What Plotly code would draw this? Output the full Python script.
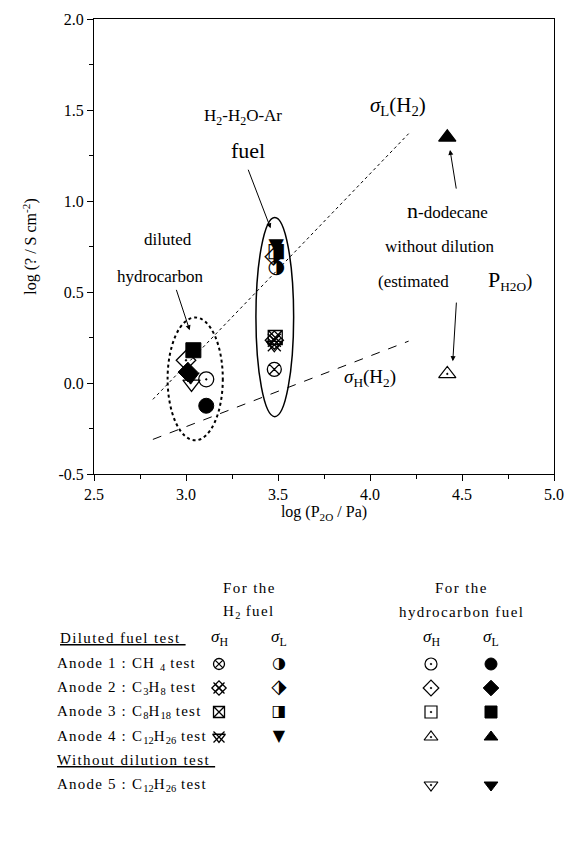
import plotly.graph_objects as go

W, H = 573, 847
SERIF = "Liberation Serif"

# ---------------- data ----------------
# hydrocarbon fuel, sigma_L (filled)
hc_L_x = [3.11, 3.01, 3.04, 3.025]
hc_L_y = [-0.125, 0.06, 0.18, 0.035]
hc_L_sym = ["circle", "diamond", "square", "triangle-down"]
# hydrocarbon fuel, sigma_H (open with dot)
hc_H_x = [3.11, 3.00, 3.03]
hc_H_y = [0.02, 0.125, -0.005]
hc_H_sym = ["circle-open-dot", "diamond-open-dot", "triangle-down-open"]
# n-dodecane without dilution
nd_x = [4.42, 4.42]
nd_y = [1.35, 0.05]
nd_sym = ["triangle-up", "triangle-up-open-dot"]
# H2 fuel sigma_L
h2_L_x = [3.49, 3.49, 3.475, 3.49]
h2_L_y = [0.75, 0.72, 0.69, 0.63]
h2_L_glyph = ["▼", "◨", "⬗", "◑"]
# H2 fuel sigma_H
h2_H_x = [3.485, 3.48, 3.48, 3.48]
h2_H_y = [0.25, 0.235, 0.21, 0.075]
h2_H_sym = ["square-x-open", "diamond-x-open", "triangle-down-open", "circle-x-open"]
h2_H_over_x = [3.48, 3.48]
h2_H_over_y = [0.235, 0.21]

# reference lines
sigL_line_x = [2.82, 4.21]
sigL_line_y = [-0.09, 1.37]
sigH_line_x = [2.82, 4.21]
sigH_line_y = [-0.31, 0.23]

# ellipses: [x0, x1, y0, y1]
ell_hc = [2.90, 3.20, -0.315, 0.36]
ell_h2 = [3.38, 3.585, -0.185, 0.91]

# axis ticks
x_ticks = [2.5, 3.0, 3.5, 4.0, 4.5, 5.0]
x_ticklabels = ["2.5", "3.0", "3.5", "4.0", "4.5", "5.0"]
y_ticks = [-0.5, 0.0, 0.5, 1.0, 1.5, 2.0]
y_ticklabels = ["-0.5", "0.0", "0.5", "1.0", "1.5", "2.0"]

# legend table: each row is a list of (text, is_subscript) pieces
leg_rows = [
    [("Anode 1 : CH ", 0), ("4", 1), (" test", 0)],
    [("Anode 2 : C", 0), ("3", 1), ("H", 0), ("8", 1), (" test", 0)],
    [("Anode 3 : C", 0), ("8", 1), ("H", 0), ("18", 1), (" test", 0)],
    [("Anode 4 : C", 0), ("12", 1), ("H", 0), ("26", 1), (" test", 0)],
    [("Anode 5 : C", 0), ("12", 1), ("H", 0), ("26", 1), (" test", 0)],
]
leg_h2_H_sym = ["circle-x-open", "diamond-x-open", "square-x-open", "triangle-down-open"]
leg_h2_L_glyph = ["◑", "⬗", "◨", "▼"]
leg_hc_H_sym = ["circle-open-dot", "diamond-open-dot", "square-open-dot", "triangle-up-open-dot", "triangle-down-open-dot"]
leg_hc_L_sym = ["circle", "diamond", "square", "triangle-up", "triangle-down"]

# ---------------- layout geometry ----------------
PL, PR, PT, PB = 86, 546, 11, 466
col_x = [211, 271, 423, 483]
row_y = [656, 680, 704, 729, 777]
hdr_y = [580, 604, 630]
under_y = 752
TX = 47

fig = go.Figure()

fig.add_trace(go.Scatter(x=sigL_line_x, y=sigL_line_y, mode="lines",
                         line=dict(color="black", width=1, dash="dot"), showlegend=False))
fig.add_trace(go.Scatter(x=sigH_line_x, y=sigH_line_y, mode="lines",
                         line=dict(color="black", width=1, dash="dash"), showlegend=False))

for e, dash, wd in [(ell_hc, "dot", 2), (ell_h2, "solid", 1.5)]:
    fig.add_shape(type="circle", xref="x", yref="y", x0=e[0], x1=e[1], y0=e[2], y1=e[3],
                  line=dict(color="black", width=wd, dash=dash))

fig.add_trace(go.Scatter(x=h2_H_x, y=h2_H_y, mode="markers", showlegend=False,
                         marker=dict(symbol=h2_H_sym, size=14, color="black",
                                     line=dict(color="black", width=1.3))))
fig.add_trace(go.Scatter(x=h2_H_over_x, y=h2_H_over_y, mode="markers", showlegend=False,
                         marker=dict(symbol="x-thin-open", size=13, color="black",
                                     line=dict(color="black", width=1.3))))
fig.add_trace(go.Scatter(x=h2_L_x, y=h2_L_y, mode="text", text=h2_L_glyph, showlegend=False,
                         textfont=dict(family="DejaVu Sans", size=[20, 20, 24, 20], color="black")))
fig.add_trace(go.Scatter(x=hc_H_x, y=hc_H_y, mode="markers", showlegend=False,
                         marker=dict(symbol=hc_H_sym, size=15, color="black",
                                     line=dict(color="black", width=1.3))))
fig.add_trace(go.Scatter(x=hc_L_x, y=hc_L_y, mode="markers", showlegend=False,
                         marker=dict(symbol=hc_L_sym, size=15, color="black",
                                     line=dict(color="black", width=1))))
fig.add_trace(go.Scatter(x=nd_x, y=nd_y, mode="markers", showlegend=False,
                         marker=dict(symbol=nd_sym, size=15, color="black",
                                     line=dict(color="black", width=1.2))))

# ---------------- legend table (overlay pixel axes) ----------------
n4 = len(leg_h2_H_sym)
fig.add_trace(go.Scatter(x=[col_x[0]] * n4, y=row_y[:n4], xaxis="x2", yaxis="y2", mode="markers",
                         showlegend=False, cliponaxis=False,
                         marker=dict(symbol=leg_h2_H_sym, size=11, color="black",
                                     line=dict(color="black", width=1.3))))
fig.add_trace(go.Scatter(x=[col_x[0]] * 2, y=[row_y[1], row_y[3]], xaxis="x2", yaxis="y2", mode="markers",
                         showlegend=False, cliponaxis=False,
                         marker=dict(symbol="x-thin-open", size=11, color="black",
                                     line=dict(color="black", width=1.3))))
fig.add_trace(go.Scatter(x=[col_x[1]] * n4, y=row_y[:n4], xaxis="x2", yaxis="y2", mode="text",
                         text=leg_h2_L_glyph, showlegend=False, cliponaxis=False,
                         textfont=dict(family="DejaVu Sans", size=[16, 20, 16, 16], color="black")))
fig.add_trace(go.Scatter(x=[col_x[2]] * 5, y=row_y, xaxis="x2", yaxis="y2", mode="markers",
                         showlegend=False, cliponaxis=False,
                         marker=dict(symbol=leg_hc_H_sym, size=12, color="black",
                                     line=dict(color="black", width=1.2))))
fig.add_trace(go.Scatter(x=[col_x[3]] * 5, y=row_y, xaxis="x2", yaxis="y2", mode="markers",
                         showlegend=False, cliponaxis=False,
                         marker=dict(symbol=leg_hc_L_sym, size=12, color="black",
                                     line=dict(color="black", width=1))))

ann = []
def A(x, y, text, size=16, xref="x", yref="y", xanchor="center", **kw):
    ann.append(dict(x=x, y=y, xref=xref, yref=yref, text=text, showarrow=False,
                    xanchor=xanchor, yanchor="middle",
                    font=dict(family=SERIF, size=size, color="black"), **kw))

A(3.31, 1.46, "H<sub>2</sub>-H<sub>2</sub>O-Ar", 17)
A(3.335, 1.28, "fuel", 22)
A(2.90, 0.79, "diluted", 17)
A(2.86, 0.585, "hydrocarbon", 17)
A(4.15, 1.52, "<i>σ</i><sub>L</sub>(H<sub>2</sub>)", 21)
A(4.42, 0.95, "<span style='font-size:22px'>n</span>-dodecane", 17)
A(4.38, 0.75, "without dilution", 17)
A(4.235, 0.56, "(estimated", 17)
A(4.76, 0.565, "<span style='font-size:22px'>P</span><sub>H2O</sub>)", 19)
A(4.0, 0.025, "<i>σ</i><sub>H</sub>(H<sub>2</sub>)", 19)

arrows = [
    (3.46, 0.85, 3.335, 1.18),
    (3.02, 0.29, 2.945, 0.52),
    (4.435, 1.28, 4.47, 1.06),
    (4.45, 0.12, 4.47, 0.45),
]
for hx, hy, tx, ty in arrows:
    ann.append(dict(x=hx, y=hy, ax=tx, ay=ty, xref="x", yref="y", axref="x", ayref="y",
                    text="", showarrow=True, arrowhead=2, arrowsize=1, arrowwidth=1,
                    arrowcolor="black"))

# legend text (letter-spaced like the original, compact subscripts)
LS = 15
def sp(t, ls=1.4):
    return "<span style='letter-spacing:%spx'>" % ls + t + "</span>"

def row_text(pieces):
    out = ""
    for t, sub in pieces:
        out += ("<sub>" + t + "</sub>") if sub else sp(t, 1.2)
    return out

A(col_x[0] + 30, hdr_y[0], sp("For the"), LS, "x2", "y2")
A(col_x[0] + 30, hdr_y[1], sp("H") + "<sub>2</sub>" + sp(" fuel"), LS, "x2", "y2")
A((col_x[2] + col_x[3]) / 2, hdr_y[0], sp("For the"), LS, "x2", "y2")
A((col_x[2] + col_x[3]) / 2, hdr_y[1], sp("hydrocarbon fuel"), LS, "x2", "y2")
for cx, sub in zip(col_x, ["H", "L", "H", "L"]):
    A(cx, hdr_y[2], "<i>σ</i><sub>%s</sub>" % sub, 17, "x2", "y2")
A(TX + 3, hdr_y[2], "<u>" + sp("Diluted fuel test ") + "</u>", LS, "x2", "y2", xanchor="left")
for ry, pieces in zip(row_y, leg_rows):
    A(TX, ry, row_text(pieces), LS, "x2", "y2", xanchor="left")
A(TX, under_y, "<u>" + sp("Without dilution test ") + "</u>", LS, "x2", "y2", xanchor="left")

axfont = dict(family=SERIF, size=16, color="black")
fig.update_layout(
    width=W, height=H, margin=dict(l=0, r=0, t=0, b=0, autoexpand=False),
    paper_bgcolor="white", plot_bgcolor="rgba(0,0,0,0)",
    showlegend=False,
    annotations=ann,
    xaxis=dict(domain=[PL / W, PR / W], range=[2.5, 5.0], tickvals=x_ticks, ticktext=x_ticklabels,
               ticks="outside", ticklen=6, tickwidth=1, tickcolor="black",
               minor=dict(ticks="outside", ticklen=4, dtick=0.25, tickcolor="black"),
               showline=True, mirror=True, linecolor="black", linewidth=1,
               showgrid=False, zeroline=False, tickfont=axfont,
               title=dict(text="log (P<sub>2O</sub> / Pa)", font=axfont, standoff=3),
               anchor="y"),
    yaxis=dict(domain=[1 - PB / H, 1 - PT / H], range=[-0.5, 2.0], tickvals=y_ticks, ticktext=y_ticklabels,
               ticks="outside", ticklen=6, tickwidth=1, tickcolor="black",
               minor=dict(ticks="outside", ticklen=4, dtick=0.25, tickcolor="black"),
               showline=True, mirror=True, linecolor="black", linewidth=1,
               showgrid=False, zeroline=False, tickfont=axfont,
               title=dict(text="log (? / S cm<sup>-2</sup>)", font=axfont, standoff=17),
               anchor="x"),
    xaxis2=dict(domain=[0, 1], range=[0, W], visible=False, anchor="y2", fixedrange=True),
    yaxis2=dict(domain=[0, 1], range=[H, 0], visible=False, anchor="x2", fixedrange=True),
)

fig.write_html("out.html")
